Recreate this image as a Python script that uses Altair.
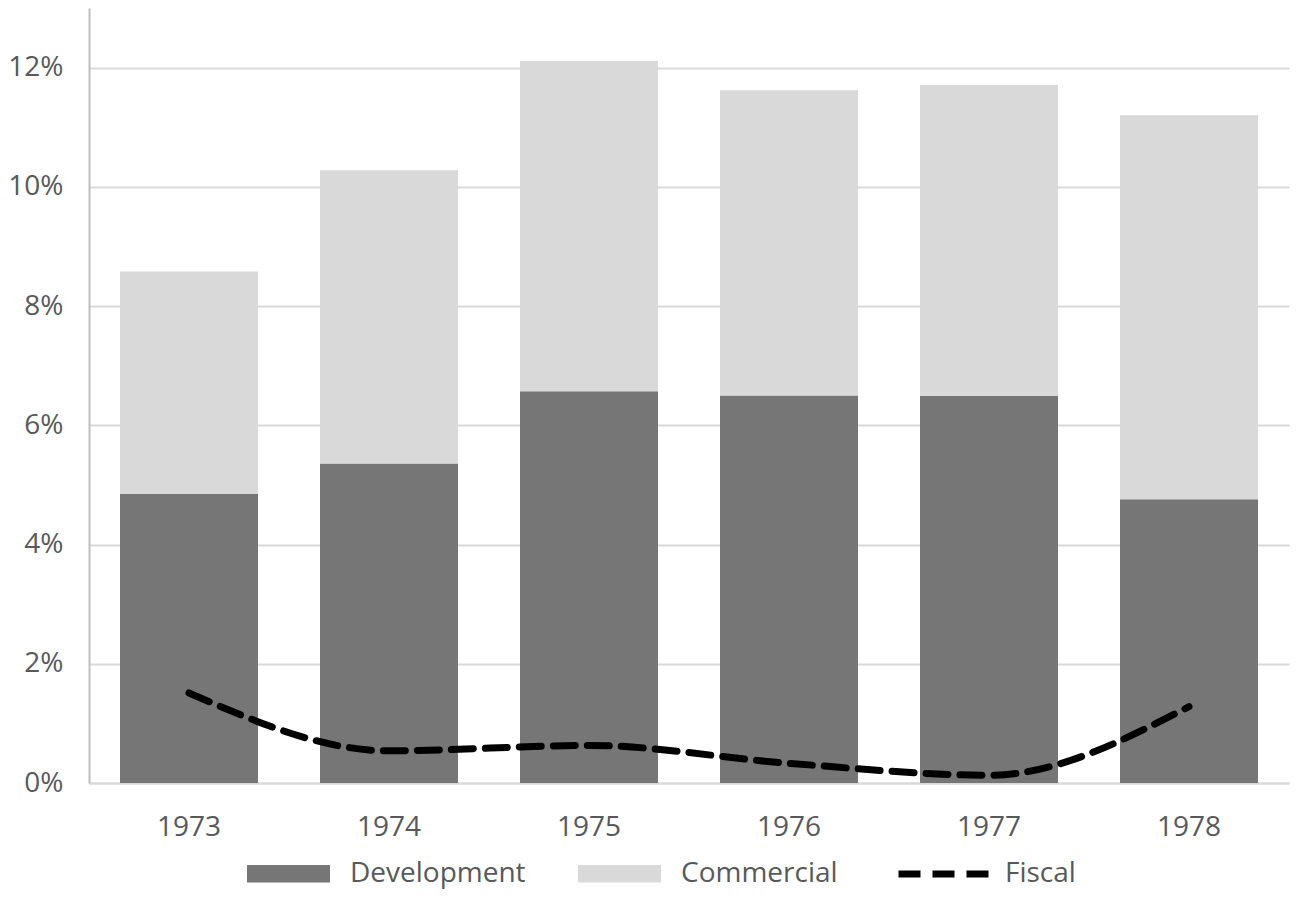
import pandas as pd
import altair as alt

years = ["1973", "1974", "1975", "1976", "1977", "1978"]
development = [4.85, 5.36, 6.57, 6.50, 6.49, 4.76]
commercial = [3.73, 4.92, 5.54, 5.12, 5.22, 6.44]
fiscal = [1.51, 0.54, 0.63, 0.33, 0.13, 1.28]

FONT = "Open Sans"
TEXT = "#595959"
FS = 28

# long table for the stacked bars
bars = pd.DataFrame({
    "year": years * 2,
    "value": [v / 100 for v in development + commercial],
    "series": ["Development"] * 6 + ["Commercial"] * 6,
    "ord": [0] * 6 + [1] * 6,
})
line = pd.DataFrame({
    "year": years,
    "value": [v / 100 for v in fiscal],
    "series": ["Fiscal"] * 6,
})

x = alt.X("year:N", title=None, sort=years,
          scale=alt.Scale(paddingInner=0.31, paddingOuter=0.155),
          axis=alt.Axis(labelAngle=0, labelFontSize=FS, labelPadding=30,
                        labelColor=TEXT, labelFont=FONT, ticks=False,
                        domainColor="#d9d9d9", domainWidth=2))
y_scale = alt.Scale(domain=[0, 0.13], nice=False)

bar = (
    alt.Chart(bars)
    .mark_bar()
    .encode(
        x=x,
        y=alt.Y("value:Q", title=None, stack="zero", scale=y_scale,
                axis=alt.Axis(format=".0%", values=[0, 0.02, 0.04, 0.06, 0.08, 0.1, 0.12],
                              labelFontSize=FS, labelPadding=26, labelColor=TEXT,
                              labelFont=FONT, ticks=False, domainColor="#bfbfbf",
                              domainWidth=2, gridColor="#d9d9d9", gridWidth=2)),
        fill=alt.Fill("series:N",
                      scale=alt.Scale(domain=["Development", "Commercial"],
                                      range=["#767676", "#d9d9d9"]),
                      legend=alt.Legend(title=None, orient="none", direction="horizontal",
                                        legendX=158, legendY=824,
                                        symbolType="M-1,-0.21H1V0.21H-1Z", symbolSize=6889,
                                        symbolStrokeWidth=0, labelFontSize=FS,
                                        labelFont=FONT, labelColor=TEXT, labelOffset=20,
                                        labelLimit=400, columnPadding=52, padding=0)),
        order=alt.Order("ord:Q"),
    )
)

fisc = (
    alt.Chart(line)
    .mark_line(color="black", strokeWidth=7, strokeCap="round", interpolate="monotone")
    .encode(
        x=alt.X("year:N", sort=years),
        y=alt.Y("value:Q", scale=y_scale),
        strokeDash=alt.StrokeDash("series:N",
                                  scale=alt.Scale(domain=["Fiscal"], range=[[22, 12]]),
                                  legend=alt.Legend(title=None, orient="none",
                                                    legendX=806, legendY=815,
                                                    symbolType="stroke", symbolSize=9025,
                                                    symbolStrokeWidth=7,
                                                    symbolStrokeColor="black",
                                                    labelFontSize=FS, labelFont=FONT,
                                                    labelColor=TEXT, labelOffset=8,
                                                    labelLimit=400, padding=0)),
    )
)

chart = (
    alt.layer(bar, fisc)
    .properties(width=1200, height=775,
                autosize=alt.AutoSizeParams(type="none"),
                padding={"left": 81, "top": 0, "right": 2, "bottom": 128})
    .configure_view(stroke=None)
    .configure_axis(domainCap="butt")
)

chart.save("out.html", embed_options={"renderer": "svg", "actions": False})
